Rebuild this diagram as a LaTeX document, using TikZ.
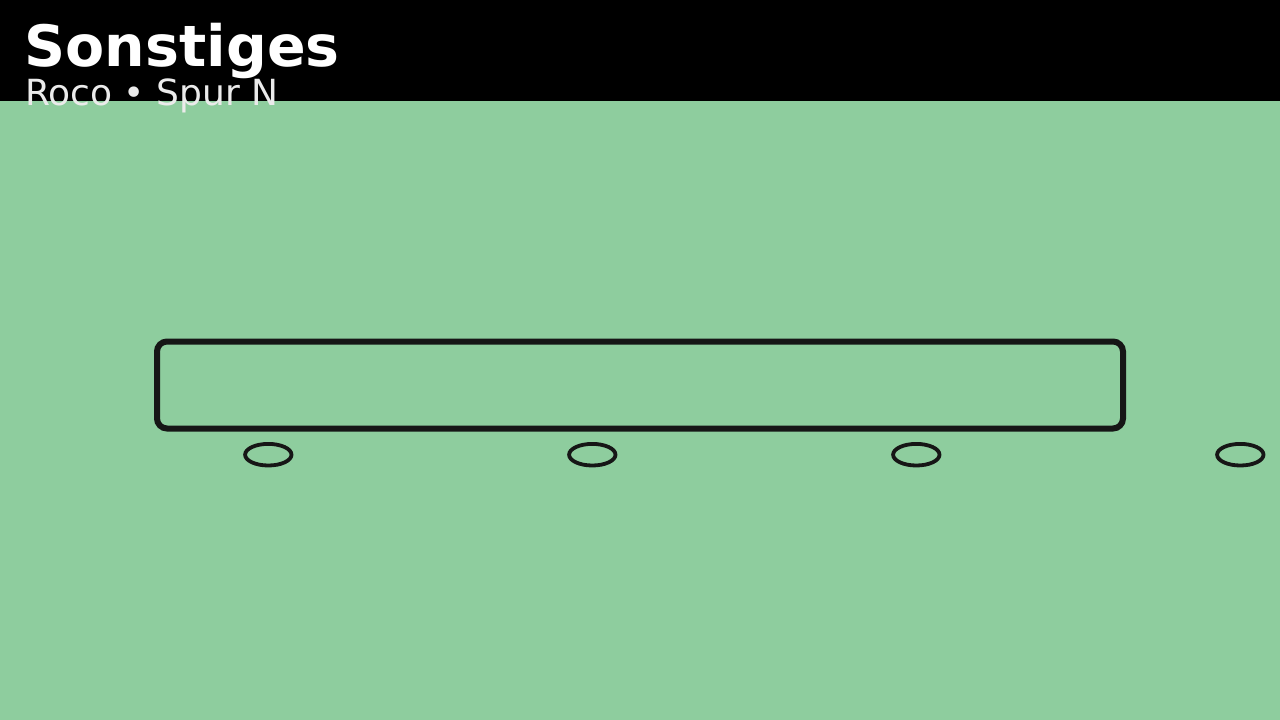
\documentclass[tikz,border=0pt]{standalone}
\usepackage{fontspec}
\setmainfont{DejaVu Sans}
\definecolor{bggreen}{RGB}{142,205,158}
\definecolor{ink}{RGB}{22,22,22}
\definecolor{subgrey}{RGB}{235,235,235}
\tikzset{
  wagon/.style={draw=ink, line width=6pt, rounded corners=10pt},
  wheel/.style={draw=ink, line width=3.8pt},
}
\begin{document}
\begin{tikzpicture}[x=1pt,y=-1pt]
\useasboundingbox (0,0) rectangle (1280,720);
\fill[bggreen] (0,0) rectangle (1280,720);
\fill[black] (0,0) rectangle (1280,100.5);
\node[anchor=base west, inner sep=0pt, text=white, font=\bfseries\fontsize{57}{62}\selectfont] (title) at (24.5,66.5) {Sonstiges};
\node[anchor=base west, inner sep=0pt, text=subgrey, font=\fontsize{36}{40}\selectfont] (subtitle) at (25,105) {Roco • Spur N};
\draw[wagon] (157,341.5) rectangle (1123,428.5);
\foreach \i/\cx in {1/268.3,2/592.3,3/916.3,4/1240.3}{
  \draw[wheel] (\cx,454.7) ellipse [x radius=23.2, y radius=10.8];
}
\end{tikzpicture}
\end{document}
